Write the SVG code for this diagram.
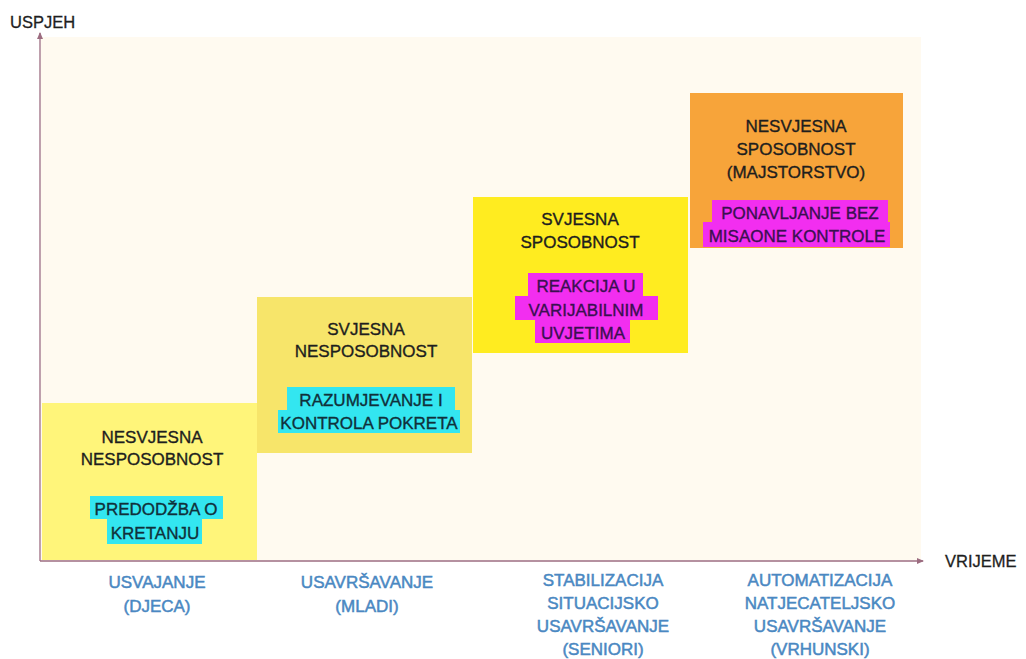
<svg xmlns="http://www.w3.org/2000/svg" width="1026" height="659" viewBox="0 0 1026 659">
<style>
.t{font-family:"Liberation Sans","DejaVu Sans",sans-serif;font-size:17px;fill:#1e1e1e;stroke:#1e1e1e;stroke-width:0.35;text-anchor:middle}
.tm{fill:#3a1050;stroke:#3a1050}
.tc{fill:#10303a;stroke:#10303a}
.a{font-family:"Liberation Sans","DejaVu Sans",sans-serif;font-size:16.5px;fill:#1e1e1e;stroke:#1e1e1e;stroke-width:0.3}
.l{font-family:"Liberation Sans","DejaVu Sans",sans-serif;font-size:17px;fill:#4a88c2;stroke:#4a88c2;stroke-width:0.5;text-anchor:middle}
.cy{fill:#33e6f0}
.mg{fill:#f22ef0}
.ax{stroke:#9c6c80;stroke-width:1.3;fill:none}
</style>
<defs>
<marker id="arr" markerWidth="8" markerHeight="8" refX="6" refY="4" orient="auto" markerUnits="userSpaceOnUse">
<path d="M0,1 L7,4 L0,7 Z" fill="#9c6c80"/>
</marker>
</defs>
<rect width="1026" height="659" fill="#ffffff"/>
<rect x="41" y="37" width="880" height="523" fill="#fffaf0"/>
<g id="box1">
<rect x="42" y="403" width="215" height="157" fill="#fff57a"/>
<text class="t" x="152" y="443">NESVJESNA</text>
<text class="t" x="152" y="465">NESPOSOBNOST</text>
<rect class="cy" x="90" y="496" width="133" height="23"/>
<rect class="cy" x="107" y="518" width="95" height="26"/>
<text class="t tc" x="156" y="515">PREDODŽBA O</text>
<text class="t tc" x="155" y="539">KRETANJU</text>
</g>
<g id="box2">
<rect x="257" y="297" width="215" height="156" fill="#f7e56a"/>
<text class="t" x="366" y="335">SVJESNA</text>
<text class="t" x="366" y="357">NESPOSOBNOST</text>
<rect class="cy" x="287" y="387" width="168" height="24"/>
<rect class="cy" x="278" y="410" width="182" height="23"/>
<text class="t tc" x="371" y="406">RAZUMJEVANJE I</text>
<text class="t tc" x="369" y="429">KONTROLA POKRETA</text>
</g>
<g id="box3">
<rect x="473" y="197" width="215" height="156" fill="#ffec20"/>
<text class="t" x="580" y="225">SVJESNA</text>
<text class="t" x="580" y="248">SPOSOBNOST</text>
<rect class="mg" x="528" y="273" width="115" height="24"/>
<rect class="mg" x="515" y="296" width="143" height="24"/>
<rect class="mg" x="535" y="319" width="95" height="24"/>
<text class="t tm" x="586" y="292">REAKCIJA U</text>
<text class="t tm" x="586" y="316">VARIJABILNIM</text>
<text class="t tm" x="583" y="339">UVJETIMA</text>
</g>
<g id="box4">
<rect x="690" y="93" width="213" height="155" fill="#f7a43a"/>
<text class="t" x="796" y="132">NESVJESNA</text>
<text class="t" x="796" y="155">SPOSOBNOST</text>
<text class="t" x="796" y="178">(MAJSTORSTVO)</text>
<rect class="mg" x="712" y="200" width="176" height="23"/>
<rect class="mg" x="703" y="222" width="187" height="25"/>
<text class="t tm" x="800" y="219">PONAVLJANJE BEZ</text>
<text class="t tm" x="797" y="242">MISAONE KONTROLE</text>
</g>
<g id="connectors">
<line class="ax" x1="40" y1="561" x2="40" y2="33" marker-end="url(#arr)"/>
<line class="ax" x1="40" y1="561" x2="923" y2="561" marker-end="url(#arr)"/>
</g>
<g id="labels">
<text class="a" x="10" y="28">USPJEH</text>
<text class="a" x="945" y="567">VRIJEME</text>
<text class="l" x="157" y="588">USVAJANJE</text>
<text class="l" x="157" y="612">(DJECA)</text>
<text class="l" x="367" y="588">USAVRŠAVANJE</text>
<text class="l" x="367" y="612">(MLADI)</text>
<text class="l" x="603" y="586">STABILIZACIJA</text>
<text class="l" x="603" y="609">SITUACIJSKO</text>
<text class="l" x="603" y="632">USAVRŠAVANJE</text>
<text class="l" x="603" y="655">(SENIORI)</text>
<text class="l" x="820" y="586">AUTOMATIZACIJA</text>
<text class="l" x="820" y="609">NATJECATELJSKO</text>
<text class="l" x="820" y="632">USAVRŠAVANJE</text>
<text class="l" x="820" y="655">(VRHUNSKI)</text>
</g>
</svg>
